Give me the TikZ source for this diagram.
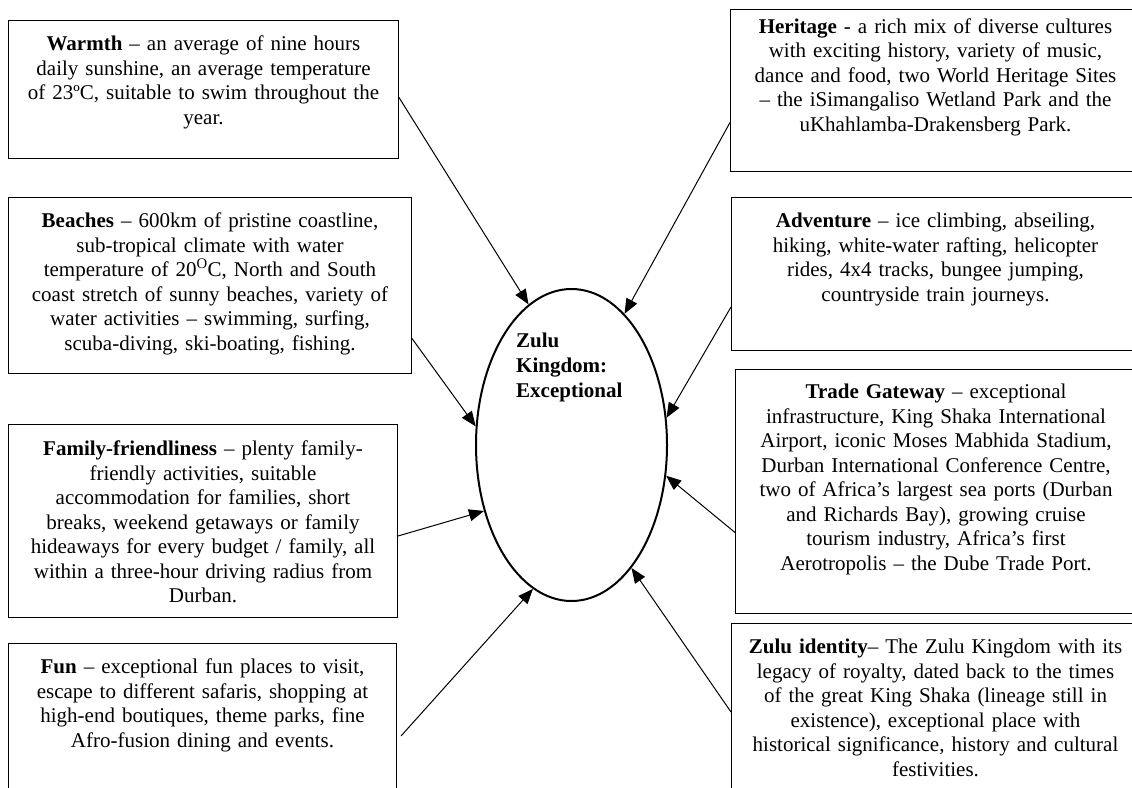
\documentclass[tikz,border=0pt]{standalone}
\usepackage{fontspec}
\setmainfont{Liberation Serif}
\usetikzlibrary{arrows.meta, shapes.geometric}

\begin{document}
\begin{tikzpicture}[
    x=1pt, y=-1pt,
    box/.style={
        draw,
        anchor=north west,
        inner sep=0pt,
        align=center,
        font=\fontsize{21pt}{24.5pt}\selectfont,
        line width=1pt
    },
    arrow/.style={
        -{Triangle[length=15pt, width=12pt]},
        line width=1pt
    }
]
\useasboundingbox (0,0) rectangle (1132,787);

% Centre
\node (kingdom) [ellipse, draw, line width=2pt, minimum width=191pt, minimum height=312pt, inner sep=0pt] at (571.5,445) {};
\node (kingdomtext) [anchor=base west, align=left, inner sep=0pt, font=\bfseries\fontsize{21pt}{25pt}\selectfont] at (516,397) {Zulu\\ Kingdom:\\ Exceptional};

% Left column
\node (warmth) [box, text width=390pt, text height=30pt, text depth=108pt] at (8,20) {\textbf{Warmth} – an average of nine hours\\ daily sunshine, an average temperature\\ of 23ºC, suitable to swim throughout the\\ year.};
\node (beaches) [box, text width=403pt, text height=30pt, text depth=146pt] at (8,197) {\textbf{Beaches} – 600km of pristine coastline,\\ sub-tropical climate with water\\ temperature of 20\textsuperscript{O}C, North and South\\ coast stretch of sunny beaches, variety of\\ water activities – swimming, surfing,\\ scuba-diving, ski-boating, fishing.};
\node (family) [box, text width=389pt, text height=31pt, text depth=162pt] at (8,424) {\textbf{Family-friendliness} – plenty family-\\ friendly activities, suitable\\ accommodation for families, short\\ breaks, weekend getaways or family\\ hideaways for every budget / family, all\\ within a three-hour driving radius from\\ Durban.};
\node (fun) [box, text width=388pt, text height=30pt, text depth=127pt] at (8,643) {\textbf{Fun} – exceptional fun places to visit,\\ escape to different safaris, shopping at\\ high-end boutiques, theme parks, fine\\ Afro-fusion dining and events.};

% Right column
\node (heritage) [box, text width=410pt, text height=24pt, text depth=138pt] at (730,9) {\textbf{Heritage} - a rich mix of diverse cultures\\ with exciting history, variety of music,\\ dance and food, two World Heritage Sites\\ – the iSimangaliso Wetland Park and the\\ uKhahlamba-Drakensberg Park.};
\node (adventure) [box, text width=408pt, text height=30pt, text depth=123pt] at (731,197) {\textbf{Adventure} – ice climbing, abseiling,\\ hiking, white-water rafting, helicopter\\ rides, 4x4 tracks, bungee jumping,\\ countryside train journeys.};
\node (trade) [box, text width=401pt, text height=29pt, text depth=215pt] at (735,369) {\textbf{Trade Gateway} – exceptional\\ infrastructure, King Shaka International\\ Airport, iconic Moses Mabhida Stadium,\\ Durban International Conference Centre,\\ two of Africa’s largest sea ports (Durban\\ and Richards Bay), growing cruise\\ tourism industry, Africa’s first\\ Aerotropolis – the Dube Trade Port.};
\node (identity) [box, text width=408pt, text height=30pt, text depth=147pt] at (731,623) {\textbf{Zulu identity}– The Zulu Kingdom with its\\ legacy of royalty, dated back to the times\\ of the great King Shaka (lineage still in\\ existence), exceptional place with\\ historical significance, history and cultural\\ festivities.};

% Arrows into the centre
\draw [arrow] ([yshift=-8pt]warmth.east) -- (kingdom.107);
\draw [arrow] ([yshift=-53pt]beaches.east) -- (kingdom.169);
\draw [arrow] ([yshift=-15pt]family.east) -- (kingdom.217);
\draw [arrow] ([yshift=-14pt, xshift=4pt]fun.east) -- (kingdom.255);
\draw [arrow] ([yshift=-32pt]heritage.west) -- (kingdom.68);
\draw [arrow] ([yshift=-33pt]adventure.west) -- (kingdom.16);
\draw [arrow] ([yshift=-41pt]trade.west) -- (kingdom.342);
\draw [arrow] (identity.west) -- (kingdom.296);

\end{tikzpicture}
\end{document}
